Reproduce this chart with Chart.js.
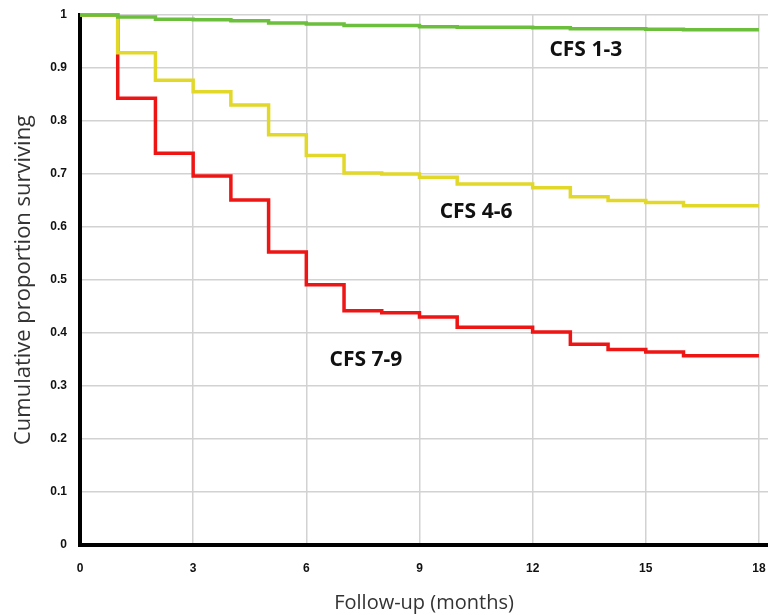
<!DOCTYPE html>
<html>
<head>
<meta charset="UTF-8">
<script src="https://cdn.jsdelivr.net/npm/chart.js@4.4.1/dist/chart.umd.min.js"></script>
<style>
  html, body { margin: 0; padding: 0; background: #fff; }
  #wrap { width: 768px; height: 615px; }
</style>
</head>
<body>
<div id="wrap"><canvas id="kmChart"></canvas></div>
<script>
// Datos (meses de seguimiento y supervivencia acumulada por grupo CFS)
const months = [0, 1, 2, 3, 4, 5, 6, 7, 8, 9, 10, 11, 12, 13, 14, 15, 16, 17, 18];
const cfs13 = [1.0, 0.996, 0.992, 0.991, 0.989, 0.985, 0.983, 0.980, 0.980, 0.978, 0.977, 0.977, 0.976, 0.974, 0.974, 0.973, 0.972, 0.972, 0.972];
const cfs46 = [1.0, 0.929, 0.877, 0.855, 0.830, 0.774, 0.735, 0.702, 0.700, 0.694, 0.681, 0.681, 0.674, 0.657, 0.650, 0.646, 0.640, 0.640, 0.640];
const cfs79 = [1.0, 0.843, 0.739, 0.696, 0.651, 0.553, 0.491, 0.442, 0.438, 0.430, 0.411, 0.411, 0.402, 0.379, 0.369, 0.364, 0.357, 0.357, 0.357];
const seriesNames = ['CFS 1-3', 'CFS 4-6', 'CFS 7-9'];
const xTicks = [0, 3, 6, 9, 12, 15, 18];
const yTicks = [0, 0.1, 0.2, 0.3, 0.4, 0.5, 0.6, 0.7, 0.8, 0.9, 1];

const toPoints = vals => months.map((m, i) => ({ x: m, y: vals[i] }));

// Etiquetas de las curvas dentro del gráfico
const curveLabels = {
  id: 'curveLabels',
  afterDatasetsDraw(chart) {
    const { ctx, scales: { x, y } } = chart;
    const spots = [[13.41, 0.934], [10.5, 0.628], [7.58, 0.349]];
    ctx.save();
    ctx.font = 'bold 21px "Open Sans"';
    ctx.fillStyle = '#111';
    ctx.textAlign = 'center';
    ctx.textBaseline = 'middle';
    seriesNames.forEach((name, i) => {
      ctx.fillText(name, x.getPixelForValue(spots[i][0]), y.getPixelForValue(spots[i][1]));
    });
    ctx.restore();
  }
};

const tickFont = { family: '"Liberation Sans", Arial', size: 12, weight: 'bold' };

const ctx = document.getElementById('kmChart').getContext('2d');
new Chart(ctx, {
  type: 'line',
  data: {
    datasets: [
      { label: seriesNames[0], data: toPoints(cfs13), borderColor: '#6cbf3c', borderWidth: 3.5, stepped: true, pointRadius: 0, clip: 6 },
      { label: seriesNames[1], data: toPoints(cfs46), borderColor: '#e2d82a', borderWidth: 3.5, stepped: true, pointRadius: 0, clip: 6 },
      { label: seriesNames[2], data: toPoints(cfs79), borderColor: '#ee1515', borderWidth: 3.5, stepped: true, pointRadius: 0, clip: 6 }
    ]
  },
  options: {
    responsive: true,
    maintainAspectRatio: false,
    animation: false,
    layout: { padding: { top: 15, right: 0, bottom: 0, left: 0 } },
    plugins: { legend: { display: false }, tooltip: { enabled: false } },
    scales: {
      x: {
        type: 'linear',
        min: 0,
        max: 18.24,
        afterBuildTicks: s => { s.ticks = xTicks.map(v => ({ value: v })); },
        afterFit: s => { s.height = 70; s.paddingLeft = 0; s.paddingRight = 0; },
        grid: { color: '#d2d2d2', lineWidth: 1.5, drawTicks: false },
        border: { color: '#000', width: 4 },
        ticks: {
          padding: 16,
          color: '#111',
          font: tickFont,
          maxRotation: 0
        },
        title: {
          display: true,
          text: 'Follow-up (months)',
          color: '#333',
          font: { family: '"Open Sans"', size: 20 },
          padding: { top: 0, bottom: 0 }
        }
      },
      y: {
        min: 0,
        max: 1,
        afterBuildTicks: s => { s.ticks = yTicks.map(v => ({ value: v })); },
        afterFit: s => { s.width = 80; s.paddingTop = 0; s.paddingBottom = 0; },
        grid: { color: '#d2d2d2', lineWidth: 1.5, drawTicks: false },
        border: { color: '#000', width: 4 },
        ticks: {
          padding: 13,
          color: '#111',
          font: tickFont,
          callback: v => String(Math.round(v * 10) / 10)
        },
        title: {
          display: true,
          text: 'Cumulative proportion surviving',
          color: '#333',
          font: { family: '"Open Sans"', size: 22 },
          padding: { top: 11, bottom: 0 }
        }
      }
    }
  },
  plugins: [curveLabels]
});
</script>
</body>
</html>
